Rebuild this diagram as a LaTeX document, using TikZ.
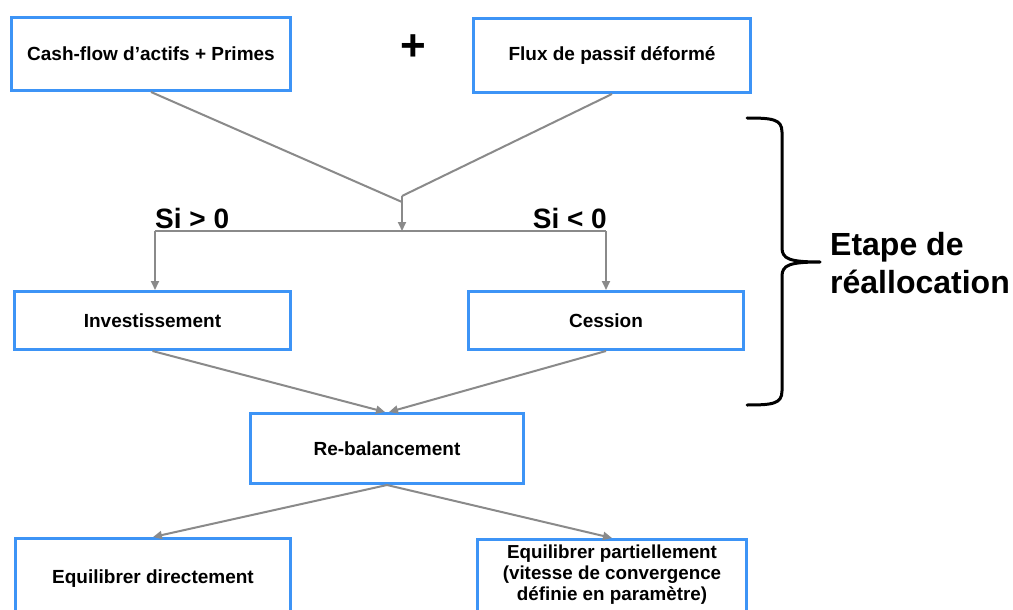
\documentclass[tikz,border=0pt]{standalone}
\usepackage{fontspec}
\setmainfont{Liberation Sans}
\usetikzlibrary{arrows.meta}
\definecolor{boxblue}{HTML}{3D94F6}
\definecolor{linegray}{HTML}{8A8A8A}
\begin{document}
\begin{tikzpicture}[x=1pt,y=-1pt,
  box/.style={draw=boxblue, line width=3pt, fill=white, align=center, inner sep=0pt,
    font=\bfseries\fontsize{19}{21}\selectfont},
  btext/.style={align=center, inner sep=0pt, font=\bfseries\fontsize{18.8}{21}\selectfont},
  conn/.style={draw=linegray, line width=2pt},
  arr/.style={conn, -{Triangle[length=9pt,width=8pt]}},
  sitext/.style={inner sep=0pt, font=\bfseries\fontsize{28}{28}\selectfont},
  bigtext/.style={inner sep=0pt, font=\bfseries\fontsize{32}{38}\selectfont},
  brace/.style={draw=black, line width=3pt, line cap=round, line join=round}
]
\useasboundingbox (0,0) rectangle (1013,610);
\fill[white] (0,0) rectangle (1013,610);
\clip (0,0) rectangle (1013,610);

% boxes
\node[box, minimum width=279pt, minimum height=73pt] (b1) at (151,54) {Cash-flow d’actifs + Primes};
\node[box, minimum width=277pt, minimum height=74pt] (b2) at (612,55.5) {Flux de passif déformé};
\node[box, minimum width=276pt, minimum height=58pt] (inv) at (152.5,320.5) {Investissement};
\node[box, minimum width=275pt, minimum height=58pt] (ces) at (606,320.5) {Cession};
\node[box, minimum width=273pt, minimum height=70pt] (rb) at (387,448.5) {Re-balancement};
\node[box, minimum width=275pt, minimum height=80pt] (ed) at (153,578.5) {Equilibrer directement};
\node[box, minimum width=269pt, minimum height=80pt] (ep) at (612,579.5) {};
\node[btext] (eptxt) at (612,574.5) {Equilibrer partiellement\\(vitesse de convergence\\définie en paramètre)};

% plus sign
\node[inner sep=0pt, font=\bfseries\fontsize{44}{44}\selectfont] (plus) at (413,48) {+};

% connectors
\coordinate (mL) at (402,202);
\coordinate (mR) at (402,196);
\coordinate (hc) at (402,231);
\coordinate (hl) at (155,231);
\coordinate (hr) at (606,231);
\draw[conn] (b1.south) -- (mL);
\draw[conn] (b2.south) -- (mR);
\draw[arr] (mR) -- (hc);
\draw[conn] (hl) -- (hr);
\draw[arr] (hl) -- (hl |- inv.north);
\draw[arr] (hr) -- (hr |- ces.north);
\draw[arr] (inv.south) -- ([xshift=-2pt]rb.north);
\draw[arr] (ces.south) -- ([xshift=2pt]rb.north);
\draw[arr] (rb.south) -- (ed.north);
\draw[arr] (rb.south) -- (ep.north);

% condition labels
\node[sitext, anchor=base west] (sipos) at (155,228) {Si > 0};
\node[sitext, anchor=base east] (sineg) at (607,228) {Si < 0};

% brace
\coordinate (btop) at (747,118);
\coordinate (btip) at (820,262);
\coordinate (bbot) at (747,405);
\draw[brace] (btop) .. controls (772,118) and (782,119) .. (782,132)
  -- (782,248) .. controls (782,259) and (790,262) .. (btip)
  .. controls (790,262) and (782,265) .. (782,276)
  -- (782,391) .. controls (782,404) and (772,405) .. (bbot);

% stage label
\node[bigtext, anchor=base west] (et1) at (830,255) {Etape de};
\node[bigtext, anchor=base west] (et2) at (830,293) {réallocation};
\end{tikzpicture}
\end{document}
